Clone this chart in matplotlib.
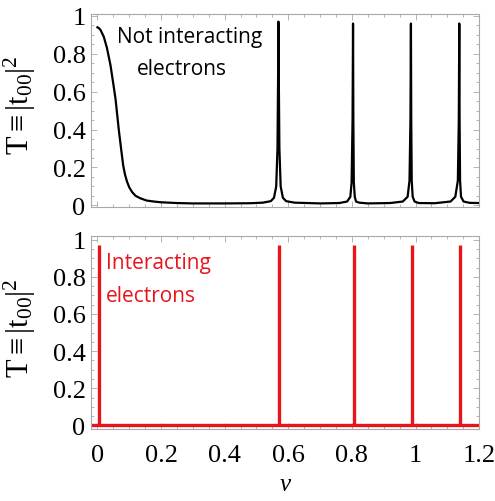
import matplotlib
matplotlib.use("Agg")
import matplotlib.pyplot as plt
from matplotlib.ticker import MultipleLocator, FormatStrFormatter

plt.rcParams["mathtext.fontset"] = "custom"
plt.rcParams["mathtext.rm"] = "Liberation Serif"
plt.rcParams["mathtext.it"] = "Liberation Serif:italic"

# ---- data ----
# not interacting electrons: smooth drop near nu=0, then narrow resonances
nu_free = [0.000, 0.005, 0.010, 0.020, 0.030, 0.041, 0.050, 0.057, 0.067,
           0.075, 0.081, 0.087, 0.093, 0.100, 0.109, 0.120, 0.135, 0.155,
           0.177, 0.200, 0.250, 0.300, 0.400, 0.480, 0.520, 0.545, 0.555,
           0.562, 0.566, 0.568, 0.569, 0.570, 0.572, 0.576, 0.583, 0.593,
           0.620, 0.700, 0.760, 0.785, 0.795, 0.799, 0.802, 0.8035, 0.8045,
           0.806, 0.809, 0.813, 0.823, 0.850, 0.920, 0.960, 0.975, 0.981,
           0.984, 0.9855, 0.9865, 0.988, 0.991, 0.997, 1.010, 1.060, 1.110,
           1.125, 1.133, 1.136, 1.1375, 1.1385, 1.140, 1.143, 1.151, 1.170,
           1.200]
T_free = [0.940, 0.935, 0.925, 0.890, 0.830, 0.740, 0.640, 0.560, 0.400,
          0.290, 0.210, 0.160, 0.125, 0.095, 0.070, 0.050, 0.037, 0.025,
          0.020, 0.016, 0.012, 0.010, 0.010, 0.011, 0.014, 0.022, 0.040,
          0.100, 0.300, 0.700, 0.970, 0.700, 0.300, 0.100, 0.040, 0.022,
          0.014, 0.010, 0.012, 0.020, 0.045, 0.120, 0.450, 0.960, 0.450,
          0.120, 0.045, 0.020, 0.014, 0.010, 0.012, 0.020, 0.045, 0.130,
          0.450, 0.960, 0.450, 0.130, 0.045, 0.020, 0.012, 0.011, 0.020,
          0.045, 0.130, 0.450, 0.960, 0.450, 0.130, 0.045, 0.020, 0.013,
          0.012]

# interacting electrons: delta-like resonances
nu_peaks = [0.004, 0.571, 0.807, 0.988, 1.141]
T_peaks = [0.97, 0.97, 0.97, 0.97, 0.97]

red = "#e8141c"
frame_col = "#a8a8a8"
serif = "Liberation Serif"
label_font = "Open Sans"

fig = plt.figure(figsize=(4.95, 5.02), dpi=100)
ax1 = fig.add_axes([0.184, 0.586, 0.784, 0.384])
ax2 = fig.add_axes([0.184, 0.143, 0.784, 0.385])

ax1.plot(nu_free, T_free, color="black", lw=1.6)

ax2.plot([-0.02, 1.2], [0, 0], color=red, lw=2.4, solid_capstyle="butt")
ax2.vlines(nu_peaks, 0, T_peaks, color=red, lw=2.4)

for ax, ylo, yhi in [(ax1, -0.008, 1.01), (ax2, -0.02, 1.02)]:
    ax.set_xlim(-0.02, 1.2)
    ax.set_ylim(ylo, yhi)
    ax.xaxis.set_major_locator(MultipleLocator(0.2))
    ax.xaxis.set_minor_locator(MultipleLocator(0.05))
    ax.yaxis.set_major_locator(MultipleLocator(0.2))
    ax.yaxis.set_minor_locator(MultipleLocator(0.05))
    ax.yaxis.set_major_formatter(FormatStrFormatter("%g"))
    ax.xaxis.set_major_formatter(FormatStrFormatter("%g"))
    for s in ax.spines.values():
        s.set_color(frame_col)
        s.set_linewidth(0.8)
    ax.tick_params(which="both", direction="in", top=True, right=True,
                   color=frame_col, width=0.6)
    ax.tick_params(which="major", length=4, pad=4)
    ax.tick_params(which="minor", length=2)
    for t in ax.get_yticklabels() + ax.get_xticklabels():
        t.set_fontfamily(serif)
        t.set_fontsize(19)
    ax.set_ylabel(r"T$\equiv$|t$_{00}$|$^2$", fontfamily=serif, fontsize=22)
    ax.yaxis.set_label_coords(-0.137, 0.53)

ax1.tick_params(axis="x", labelbottom=False)
ax2.tick_params(axis="x", which="major", pad=11)
ax2.set_xlabel(r"$\nu$", fontsize=18, labelpad=3)

ax1.text(0.06, 0.89, "Not interacting", fontfamily=label_font, fontsize=15,
         color="black", va="center", ha="left")
ax1.text(0.125, 0.72, "electrons", fontfamily=label_font, fontsize=15,
         color="black", va="center", ha="left")
ax2.text(0.028, 0.875, "Interacting", fontfamily=label_font, fontsize=15,
         color=red, va="center", ha="left")
ax2.text(0.028, 0.70, "electrons", fontfamily=label_font, fontsize=15,
         color=red, va="center", ha="left")

fig.savefig("out.png", dpi=100)
